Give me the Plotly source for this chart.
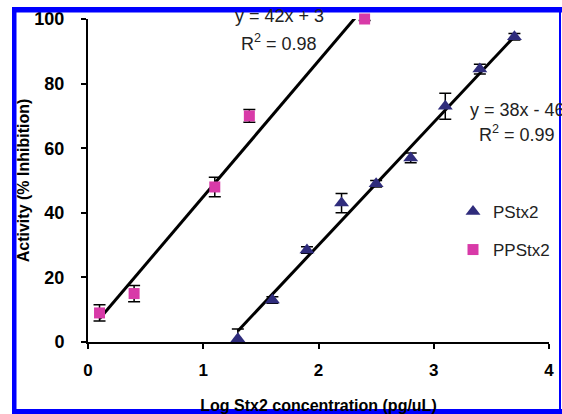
import plotly.graph_objects as go

# ---- data ----
ps_x = [1.3, 1.6, 1.9, 2.2, 2.5, 2.8, 3.1, 3.4, 3.7]
ps_y = [1, 13, 28.5, 43, 49, 57, 73, 84.5, 94.5]
ps_err = [3, 1, 1, 3, 1, 1.5, 4, 1.5, 1]

pps_x = [0.1, 0.4, 1.1, 1.4, 2.4]
pps_y = [9, 15, 48, 70, 100]
pps_err = [2.5, 2.5, 3, 2, 0.5]

pps_fit = (42, 3)      # slope, intercept
ps_fit = (38, -46)
pps_fit_label = ["y = 42x + 3", "R<sup>2</sup> = 0.98"]
ps_fit_label = ["y = 38x - 46", "R<sup>2</sup> = 0.99"]

x_ticks = [0, 1, 2, 3, 4]
y_ticks = [0, 20, 40, 60, 80, 100]

PS_COLOR = "#2f2c7c"
PPS_COLOR = "#d83aa8"
FONT = "Liberation Sans, Arial, sans-serif"

W, H = 562, 414
L, R, T, B = 88, 13, 19, 72

fig = go.Figure()

# fit lines
def fit_line(xs, coef, xmax):
    x0 = min(xs)
    return [x0, xmax], [coef[0] * x0 + coef[1], coef[0] * xmax + coef[1]]

lx, ly = fit_line(pps_x, pps_fit, max(pps_x))
fig.add_trace(go.Scatter(x=lx, y=ly, mode="lines", line=dict(color="black", width=3),
                         showlegend=False, hoverinfo="skip"))
lx, ly = fit_line(ps_x, ps_fit, max(ps_x))
fig.add_trace(go.Scatter(x=lx, y=ly, mode="lines", line=dict(color="black", width=3),
                         showlegend=False, hoverinfo="skip"))

fig.add_trace(go.Scatter(
    x=ps_x, y=ps_y, mode="markers", name="PStx2",
    marker=dict(symbol="triangle-up", size=13, color=PS_COLOR),
    error_y=dict(type="data", array=ps_err, visible=True, color="black", thickness=1.5, width=6),
    cliponaxis=False, legend="legend"))
fig.add_trace(go.Scatter(
    x=pps_x, y=pps_y, mode="markers", name="PPStx2",
    marker=dict(symbol="square", size=11, color=PPS_COLOR),
    error_y=dict(type="data", array=pps_err, visible=True, color="black", thickness=1.5, width=6),
    cliponaxis=False, legend="legend2"))

pw = W - L - R
ph = H - T - B
def px_x(p):
    return (p - L) / pw
def px_y(p):
    return (H - B - p) / ph

ann_font = dict(family=FONT, size=18, color="#222")
annotations = [
    dict(x=px_x(279), y=px_y(16), text=pps_fit_label[0]),
    dict(x=px_x(279), y=px_y(42), text=pps_fit_label[1]),
    dict(x=px_x(468), y=px_y(110), text=ps_fit_label[0], xanchor="left"),
    dict(x=px_x(517), y=px_y(133), text=ps_fit_label[1]),
]
for a in annotations:
    a.setdefault("xanchor", "center")
    a.update(xref="paper", yref="paper", yanchor="middle", showarrow=False, font=ann_font)

# blue frame
BLUE = "#0000ff"
shapes = [
    dict(type="rect", xref="paper", yref="paper", x0=px_x(0), x1=px_x(W), y0=px_y(0), y1=px_y(7),
         fillcolor="white", line_width=0, layer="above"),
    dict(type="rect", xref="paper", yref="paper", x0=px_x(0), x1=px_x(12), y0=px_y(0), y1=px_y(H),
         fillcolor="white", line_width=0, layer="above"),
    dict(type="rect", xref="paper", yref="paper", x0=px_x(12), x1=px_x(W), y0=px_y(7), y1=px_y(12.5),
         fillcolor=BLUE, line_width=0, layer="above"),
    dict(type="rect", xref="paper", yref="paper", x0=px_x(12), x1=px_x(16.5), y0=px_y(7), y1=px_y(H),
         fillcolor=BLUE, line_width=0, layer="above"),
    dict(type="rect", xref="paper", yref="paper", x0=px_x(12), x1=px_x(W), y0=px_y(409), y1=px_y(H),
         fillcolor=BLUE, line_width=0, layer="above"),
    dict(type="rect", xref="paper", yref="paper", x0=px_x(559), x1=px_x(561), y0=px_y(7), y1=px_y(H),
         fillcolor=BLUE, line_width=0, layer="above"),
]

leg_font = dict(family=FONT, size=17, color="#222")
fig.update_layout(
    width=W, height=H,
    margin=dict(l=L, r=R, t=T, b=B, autoexpand=False),
    paper_bgcolor="white", plot_bgcolor="white",
    font=dict(family=FONT, color="black"),
    showlegend=True,
    legend=dict(x=px_x(453), y=px_y(212), xanchor="left", yanchor="middle", font=leg_font,
                bgcolor="rgba(0,0,0,0)", itemwidth=30),
    legend2=dict(x=px_x(453), y=px_y(250), xanchor="left", yanchor="middle", font=leg_font,
                 bgcolor="rgba(0,0,0,0)", itemwidth=30),
    annotations=annotations,
    shapes=shapes,
    xaxis=dict(range=[0, 4], tickvals=x_ticks, ticktext=[str(v) for v in x_ticks],
               showline=True, linecolor="black", linewidth=2, ticks="outside", ticklen=5,
               tickwidth=2, tickcolor="black", showgrid=False, zeroline=False, automargin=False,
               tickfont=dict(family=FONT, size=17, weight="bold", color="black"),
               ticklabelstandoff=7,
               title=dict(text="Log Stx2 concentration (pg/uL)", standoff=20,
                          font=dict(family=FONT, size=16, weight="bold", color="black"))),
    yaxis=dict(range=[0, 100], tickvals=y_ticks, ticktext=[str(v) for v in y_ticks],
               showline=True, linecolor="black", linewidth=2, ticks="outside", ticklen=5,
               tickwidth=2, tickcolor="black", showgrid=False, zeroline=False, automargin=False,
               tickfont=dict(family=FONT, size=18, weight="bold", color="black"),
               ticklabelstandoff=13,
               title=dict(text="Activity (% Inhibition)", standoff=1,
                          font=dict(family=FONT, size=16, weight="bold", color="black"))),
)

fig.write_html("out.html", config={"displayModeBar": False},
               post_script="document.body.style.margin='0';document.body.style.overflow='hidden';")
